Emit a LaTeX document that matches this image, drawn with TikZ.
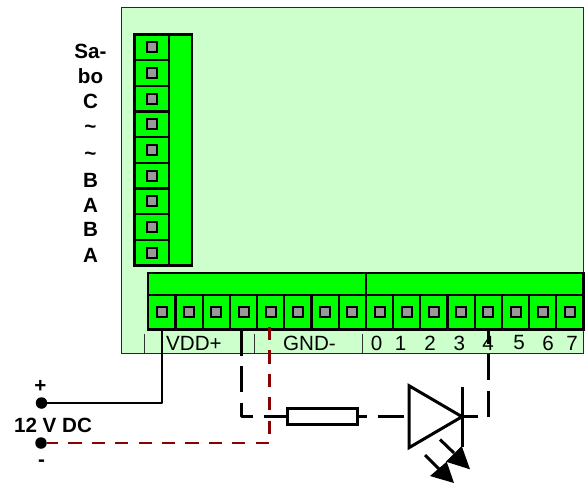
\documentclass[tikz,border=0pt]{standalone}
\usepackage{fontspec}
\setmainfont{Liberation Sans}
\definecolor{boardgreen}{HTML}{CCFFCC}
\definecolor{termgreen}{HTML}{00FF00}
\definecolor{pingray}{HTML}{999999}
\definecolor{wirered}{HTML}{8B0000}
\tikzset{
  board/.style={draw=black!85,line width=1.8pt,fill=boardgreen},
  term/.style={draw=black,line width=2.3pt,fill=termgreen,inner sep=0pt,outer sep=0pt},
  pincell/.style={term,minimum width=27.2pt,minimum height=34.5pt},
  sidecell/.style={term,minimum width=34.5pt,minimum height=25.7pt},
  pin/.style={draw=black,line width=2pt,fill=pingray,inner sep=0pt,outer sep=0pt,minimum size=10pt},
  lab/.style={font=\fontsize{20.6}{20.6}\selectfont,inner sep=0pt,text=black},
  blab/.style={font=\fontsize{20.6}{20.6}\selectfont\bfseries,inner sep=0pt,text=black},
  thin mark/.style={draw=black!80,line width=1pt},
  blackwire/.style={draw=black,line width=2.8pt},
  blackdash/.style={draw=black,line width=2.8pt,dash pattern=on 26pt off 10.5pt},
  reddash/.style={draw=wirered,line width=2.8pt,dash pattern=on 13.2pt off 10.2pt},
  term dot/.style={circle,fill=black,inner sep=0pt,minimum size=11.5pt},
  part/.style={draw=black,line width=3pt},
}
\begin{document}
\begin{tikzpicture}[x=1pt,y=-1pt]
\useasboundingbox (0,0) rectangle (586,483);
\fill[white] (0,0) rectangle (586,483);
% board
\node[board,anchor=north west,inner sep=0pt,outer sep=0pt,minimum width=462pt,minimum height=346pt] (board) at (121.5,7.5) {};
% side terminal
\node[term,anchor=north west,minimum width=23pt,minimum height=231pt] (sidebar) at (169,34.5) {};
\foreach \i in {1,...,9}{
  \node[sidecell,anchor=north west] (S\i) at (134.5,{34.5+(\i-1)*25.65}) {};
  \node[pin] (SP\i) at (S\i.center) {};
}
% bottom terminal bars
\node[term,anchor=north west,minimum width=217.6pt,minimum height=22.3pt] (barL) at (148.3,272.7) {};
\node[term,anchor=north west,minimum width=217.6pt,minimum height=22.3pt] (barR) at (365.9,272.7) {};
\foreach \i in {1,...,16}{
  \node[pincell,anchor=north west] (B\i) at ({148.3+(\i-1)*27.2},295) {};
  \node[pin] (BP\i) at (B\i.center) {};
}
% bottom labels on the board
\draw[thin mark] (144.7,334) -- (144.7,353);
\draw[thin mark] (254.7,334) -- (254.7,353);
\draw[thin mark] (362,334) -- (362,353);
\node[lab] (vdd) at (194,343) {VDD+};
\node[lab] (gnd) at (309.5,343) {GND-};
\foreach \t/\x in {0/376.7,1/400.7,2/430,3/459.3,5/519,6/548,7/572}{
  \node[lab] (n\t) at (\x,343) {\t};
}
% side labels
\foreach \t/\y/\n in {Sa-/51/a,bo/76/b,C/101/c,\char126/129/d,\char126/156/e,B/180/f,A/205/g,B/229/h,A/255/i}{
  \node[blab] (side\n) at (90.5,\y) {\t};
}
% supply
\node[term dot] (plus) at (41.5,403) {};
\node[term dot] (minus) at (41,443) {};
\node[blab] (lplus) at (40.5,386) {+};
\node[blab] (lv) at (53,425) {12 V DC};
\node[blab] (lminus) at (41.5,463) {-};
% parts
\node[part,fill=white,anchor=west,inner sep=0pt,outer sep=0pt,minimum width=70pt,minimum height=16pt] (res) at (287,416.7) {};
\coordinate (dW) at (409,416.7);
\coordinate (dT) at (462,416.7);
\coordinate (cw) at ([xshift=-2pt]B4.south |- res.west);
\coordinate (cr) at ([xshift=-1pt]B5.south |- minus);
\coordinate (cv) at (B1.south |- plus);
\coordinate (c4) at (B13.south |- res.west);
% wires
\draw[blackwire,line join=round] (B1.south) -- (cv) -- (plus);
\draw[blackdash,line join=round] ([xshift=-2pt]B4.south) -- (cw) -- (res.west);
\draw[reddash] ([xshift=-1pt,yshift=2.5pt]B5.south) -- (cr) -- (minus.east);
\draw[blackdash,dash phase=16pt] (res.east) -- (dW);
\node[lab] (n4) at (488,343) {4};
\draw[blackdash,dash phase=10pt,line join=round] (dT) -- (c4) -- (B13.south);
% diode
\draw[part,line join=miter] (409,385.7) -- (dT) -- (409,447.7) -- cycle;
\draw[part] (462,386.5) -- (462,447);
% LED arrows
\draw[line width=3pt] (440,439.5) -- (454,453);
\fill (461.7,446) -- (470,469.3) -- (446,461.7) -- cycle;
\draw[line width=3pt] (425,455) -- (439,469);
\fill (446.7,461.7) -- (454,483) -- (430,476) -- cycle;
\end{tikzpicture}
\end{document}
